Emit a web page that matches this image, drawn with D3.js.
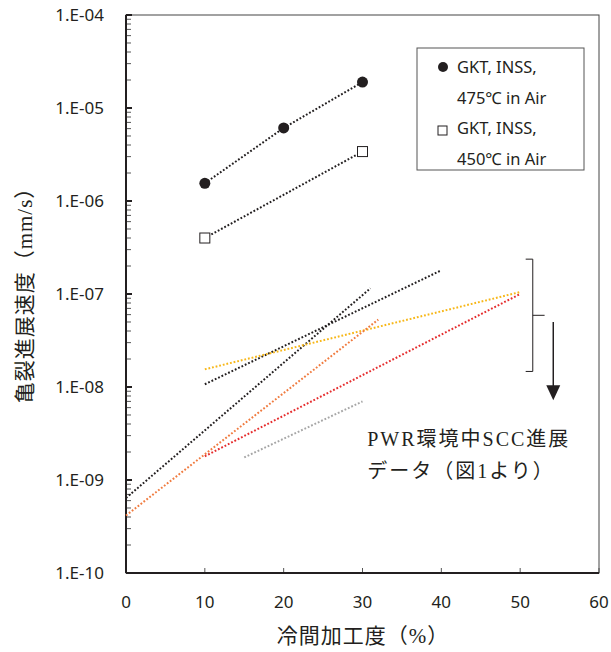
<!DOCTYPE html>
<html>
<head>
<meta charset="utf-8">
<script src="https://cdn.jsdelivr.net/npm/d3@7"></script>
<style>
  body { margin: 0; background: #fff; }
  svg { display: block; }
</style>
</head>
<body>
<div id="chart"></div>
<script>
// air test data (GKT, INSS)
const airX475 = [10, 20, 30];
const air475 = [1.55e-6, 6.1e-6, 1.9e-5];
const airX450 = [10, 30];
const air450 = [4.0e-7, 3.4e-6];

// PWR SCC trend lines (from fig.1): start / end points
const pwrX0 = [0, 10, 10, 0, 10, 15];
const pwrY0 = [6.4e-10, 1.07e-8, 1.55e-8, 4.15e-10, 1.8e-9, 1.75e-9];
const pwrX1 = [31, 40, 50, 32, 50, 30];
const pwrY1 = [1.15e-7, 1.8e-7, 1.05e-7, 5.3e-8, 1.0e-7, 7.0e-9];
const pwrColors = ["#231f20", "#231f20", "#f7b718", "#f07b3f", "#e52d2e", "#a6a6a6"];

const xTicks = [0, 10, 20, 30, 40, 50, 60];
const yTicks = [1e-4, 1e-5, 1e-6, 1e-7, 1e-8, 1e-9, 1e-10];
const yTickLabels = ["1.E-04", "1.E-05", "1.E-06", "1.E-07", "1.E-08", "1.E-09", "1.E-10"];

const legendLabels = [["GKT, INSS,", "475\u2103 in Air"], ["GKT, INSS,", "450\u2103 in Air"]];
const noteLines = ["PWR環境中SCC進展", "データ（図1より）"];

const width = 611, height = 652;
const margin = { left: 126, right: 12, top: 15, bottom: 79 };
const innerW = width - margin.left - margin.right;
const innerH = height - margin.top - margin.bottom;

const sans = "'Noto Sans', 'Open Sans', sans-serif";
const serif = "'Liberation Serif', 'DejaVu Serif', 'Noto Sans CJK JP', serif";

const svg = d3.select("#chart").append("svg")
    .attr("width", width)
    .attr("height", height);

const g = svg.append("g").attr("transform", `translate(${margin.left},${margin.top})`);

const x = d3.scaleLinear().domain([0, 60]).range([0, innerW]);
const y = d3.scaleLog().domain([1e-10, 1e-4]).range([innerH, 0]);

// frame: thin top/right
g.append("rect")
    .attr("width", innerW).attr("height", innerH)
    .attr("fill", "none").attr("stroke", "#444").attr("stroke-width", 1);

// minor y ticks (inside)
const minor = [];
for (let e = -10; e < -4; e++) {
    for (let m = 2; m <= 9; m++) minor.push(m * Math.pow(10, e));
}
g.selectAll(".ymin").data(minor).enter().append("line")
    .attr("x1", 0).attr("x2", 5)
    .attr("y1", d => y(d)).attr("y2", d => y(d))
    .attr("stroke", "#555").attr("stroke-width", 1);

g.selectAll(".ymaj").data(yTicks).enter().append("line")
    .attr("x1", 0).attr("x2", 6)
    .attr("y1", d => y(d)).attr("y2", d => y(d))
    .attr("stroke", "#231f20").attr("stroke-width", 2);

g.selectAll(".ylab").data(yTicks).enter().append("text")
    .attr("x", -22).attr("y", d => y(d))
    .attr("dy", "0.36em")
    .attr("text-anchor", "end")
    .attr("font-family", sans).attr("font-size", 17)
    .attr("fill", "#231f20")
    .text((d, i) => yTickLabels[i]);

// x ticks (inside, pointing up)
g.selectAll(".xt").data(xTicks).enter().append("line")
    .attr("x1", d => x(d)).attr("x2", d => x(d))
    .attr("y1", innerH).attr("y2", innerH - 5)
    .attr("stroke", "#555").attr("stroke-width", 1);

g.selectAll(".xlab").data(xTicks).enter().append("text")
    .attr("x", d => x(d)).attr("y", innerH + 35)
    .attr("text-anchor", "middle")
    .attr("font-family", sans).attr("font-size", 17)
    .attr("fill", "#231f20")
    .text(d => d);

// thick left and bottom axis
g.append("line").attr("x1", 0).attr("x2", 0).attr("y1", 0).attr("y2", innerH)
    .attr("stroke", "#231f20").attr("stroke-width", 2);
g.append("line").attr("x1", 0).attr("x2", innerW).attr("y1", innerH).attr("y2", innerH)
    .attr("stroke", "#231f20").attr("stroke-width", 2);

// PWR lines
pwrX0.forEach((d, i) => {
    g.append("line")
        .attr("x1", x(pwrX0[i])).attr("y1", y(pwrY0[i]))
        .attr("x2", x(pwrX1[i])).attr("y2", y(pwrY1[i]))
        .attr("stroke", pwrColors[i])
        .attr("stroke-width", 2)
        .attr("stroke-dasharray", "1.8,1.9");
});

// air data lines
const line = d3.line().x(d => x(d[0])).y(d => y(d[1]));
g.append("path")
    .attr("d", line(airX475.map((d, i) => [d, air475[i]])))
    .attr("fill", "none").attr("stroke", "#231f20")
    .attr("stroke-width", 2).attr("stroke-dasharray", "1.8,1.9");
g.append("path")
    .attr("d", line(airX450.map((d, i) => [d, air450[i]])))
    .attr("fill", "none").attr("stroke", "#231f20")
    .attr("stroke-width", 2).attr("stroke-dasharray", "1.8,1.9");

g.selectAll(".c475").data(airX475).enter().append("circle")
    .attr("cx", d => x(d)).attr("cy", (d, i) => y(air475[i]))
    .attr("r", 5.5).attr("fill", "#231f20");

g.selectAll(".s450").data(airX450).enter().append("rect")
    .attr("x", d => x(d) - 5).attr("y", (d, i) => y(air450[i]) - 5)
    .attr("width", 10).attr("height", 10)
    .attr("fill", "#fff").attr("stroke", "#231f20").attr("stroke-width", 1);

// legend
const lg = svg.append("g").attr("transform", "translate(417,48)");
lg.append("rect").attr("width", 167).attr("height", 122)
    .attr("fill", "#fff").attr("stroke", "#555").attr("stroke-width", 1);
lg.append("circle").attr("cx", 26).attr("cy", 19).attr("r", 5).attr("fill", "#231f20");
lg.append("rect").attr("x", 21).attr("y", 78).attr("width", 9).attr("height", 9)
    .attr("fill", "#fff").attr("stroke", "#231f20").attr("stroke-width", 1);
legendLabels.forEach((lines, i) => {
    lines.forEach((t, j) => {
        lg.append("text")
            .attr("x", 40)
            .attr("y", 25 + i * 61 + j * 31)
            .attr("font-family", sans).attr("font-size", 16.5)
            .attr("fill", "#231f20")
            .text(t);
    });
});

// bracket and arrow
const bx0 = x(50.7), bx1 = x(51.6), bx2 = x(53.1);
const by0 = y(2.37e-7), by1 = y(1.47e-8), bym = y(5.9e-8);
g.append("path")
    .attr("d", `M${bx0},${by0}H${bx1}V${by1}H${bx0}M${bx1},${bym}H${bx2}`)
    .attr("fill", "none").attr("stroke", "#231f20").attr("stroke-width", 1);

const ax = x(54.2);
g.append("line")
    .attr("x1", ax).attr("x2", ax)
    .attr("y1", y(5.0e-8)).attr("y2", y(1.0e-8))
    .attr("stroke", "#231f20").attr("stroke-width", 1.5);
const tipY = y(7.2e-9);
g.append("path")
    .attr("d", `M${ax - 7},${tipY - 15}L${ax + 7},${tipY - 15}L${ax},${tipY}Z`)
    .attr("fill", "#231f20");

// note text
noteLines.forEach((t, i) => {
    g.append("text")
        .attr("x", x(30.6)).attr("y", 431 + i * 32)
        .attr("font-family", serif).attr("font-size", 20)
        .attr("letter-spacing", 2)
        .attr("fill", "#231f20")
        .text(t);
});

// axis titles
svg.append("text")
    .attr("x", 363).attr("y", 643)
    .attr("text-anchor", "middle")
    .attr("font-family", serif).attr("font-size", 21)
    .attr("letter-spacing", 1)
    .attr("fill", "#231f20")
    .text("冷間加工度（%）");

svg.append("text")
    .attr("transform", "translate(32,290) rotate(-90)")
    .attr("text-anchor", "middle")
    .attr("font-family", serif).attr("font-size", 21)
    .attr("letter-spacing", 1)
    .attr("fill", "#231f20")
    .text("亀裂進展速度（mm/s）");
</script>
</body>
</html>
